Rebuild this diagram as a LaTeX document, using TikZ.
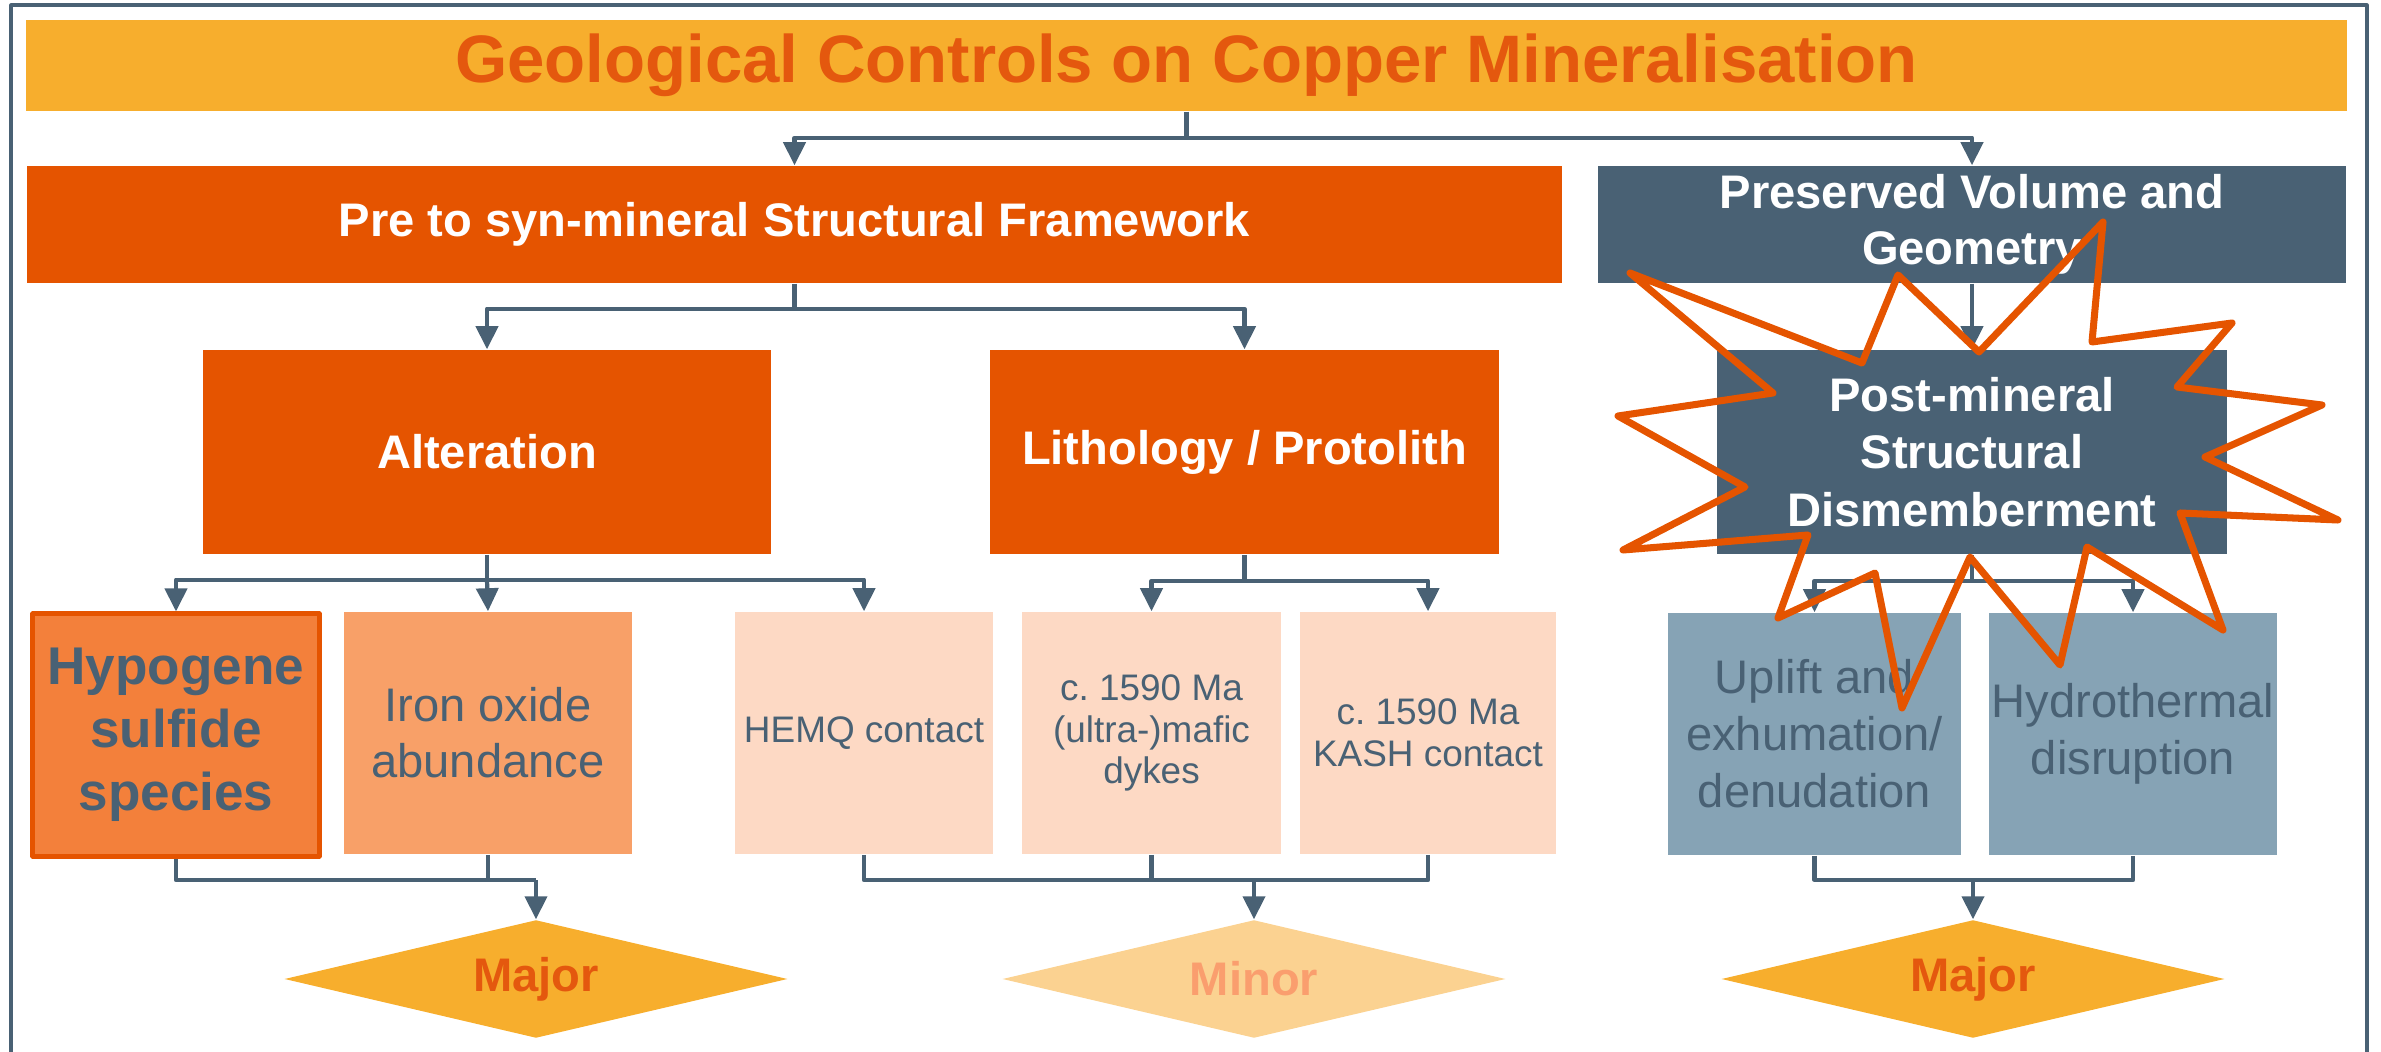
\documentclass[tikz,border=0pt]{standalone}
\usepackage{fontspec}
\setmainfont{Liberation Sans}
\usetikzlibrary{arrows.meta,shapes.geometric}

\definecolor{slate}{RGB}{73,97,116}
\definecolor{steel}{RGB}{134,163,181}
\definecolor{rust}{RGB}{229,84,0}
\definecolor{titlered}{RGB}{228,88,14}
\definecolor{tangerine}{RGB}{243,128,59}
\definecolor{salmon}{RGB}{248,160,104}
\definecolor{peach}{RGB}{253,217,196}
\definecolor{gold}{RGB}{247,174,45}
\definecolor{palegold}{RGB}{251,210,145}
\definecolor{minortext}{RGB}{250,158,110}

\newcommand\fsz[2]{\fontsize{#1}{#2}\selectfont}

\begin{document}
\begin{tikzpicture}[
		x=0.01cm, y=-0.01cm,
		>={Triangle[length=2.3mm,width=2.2mm]},
		line join=round,
		box/.style={rectangle,inner sep=0pt,align=center},
		head/.style={box,fill=rust,text=white,font=\bfseries\fsz{13.4}{16}},
		slatebox/.style={box,fill=slate,text=white,font=\bfseries\fsz{13.4}{16}},
		peachbox/.style={box,fill=peach,text=slate,font=\fsz{10.5}{12},
			minimum width=2.58cm,minimum height=2.42cm},
		steelbox/.style={box,fill=steel,text=slate,font=\fsz{13.4}{16.2},
			minimum height=2.42cm},
		gem/.style={diamond,inner sep=0pt,aspect=4.26,
			minimum width=5.03cm,minimum height=1.18cm,font=\bfseries\fsz{13.4}{16}},
		link/.style={draw=slate,line width=1.2pt},
		burst/.style={draw=rust,line width=2pt,line join=round}
		]
		\useasboundingbox (0,0) rectangle (2381,1052);
		\draw[slate,line width=0.9pt] (11,1052) -- (11,5) -- (2367,5) -- (2367,1052);

		% heading and the two main branches
		\node[box,fill=gold,text=titlered,font=\bfseries\fsz{19.1}{22},
			minimum width=23.19cm,minimum height=0.91cm] (title) at (1186.5,65.5)
			{Geological Controls on Copper Mineralisation};
		\node[head,minimum width=15.35cm,minimum height=1.17cm] (framework) at (794.5,224.5)
			{Pre to syn-mineral Structural Framework};
		\node[slatebox,minimum width=7.48cm,minimum height=1.17cm] (preserved) at (1972,224.5)
			{Preserved Volume and\\Geometry};

		\node[head,minimum width=5.68cm,minimum height=2.04cm] (alteration) at (487,452) {Alteration};
		\node[head,minimum width=5.09cm,minimum height=2.04cm] (lithology) at (1244.5,452) {Lithology / Protolith};
		\node[slatebox,font=\bfseries\fsz{13.4}{16.3},minimum width=5.10cm,minimum height=2.04cm] (postmineral) at (1972,452)
			{Post-mineral\\Structural\\Dismemberment};

		% individual controls
		\node[box,fill=tangerine,draw=rust,line width=1.4pt,text=slate,font=\bfseries\fsz{15.1}{17.9},
			minimum width=2.86cm,minimum height=2.42cm] (hypogene) at (176,735)
			{Hypogene\\sulfide\\species};
		\node[box,fill=salmon,text=slate,font=\fsz{13.4}{15.9},
			minimum width=2.88cm,minimum height=2.42cm] (ironoxide) at (488,733)
			{Iron oxide\\abundance};
		\node[peachbox] (hemq) at (864,733) {HEMQ contact};
		\node[peachbox,font=\fsz{10.5}{11.9}] (dykes) at (1151.5,733) {c.\ 1590 Ma\\(ultra-)mafic\\dykes};
		\node[peachbox,font=\fsz{10.5}{11.9},minimum width=2.56cm] (kash) at (1428,733) {c.\ 1590 Ma\\KASH contact};
		\node[steelbox,minimum width=2.93cm] (uplift) at (1814.5,734) {Uplift and\\exhumation/\\denudation};
		\node[steelbox,minimum width=2.88cm] (hydro) at (2133,734) {Hydrothermal\\disruption};

		% ratings
		\node[gem,fill=gold,text=titlered] (major1) at (536,979) {Major};
		\node[gem,fill=palegold,text=minortext] (minor) at (1254,979) {Minor};
		\node[gem,fill=gold,text=titlered] (major2) at (1973,979) {Major};

		\begin{scope}[link]
		\draw[->] (title.south) -- ++(0,26) coordinate (t0) -| (framework.north);
		\draw[->] (t0) -| (preserved.north);
		\draw (framework.south) -- ++(0,25) coordinate (f0);
		\draw[->] (f0) -| (alteration.north);
		\draw[->] (f0) -| (lithology.north);
		\draw[->] (preserved.south) -- (postmineral.north);

		\draw (alteration.south) -- ++(0,25) coordinate (a0);
		\draw[->] (a0) -| (hypogene.north);
		\draw[->] (a0) -- (ironoxide.north);
		\draw[->] (a0) -| (hemq.north);
		\draw (lithology.south) -- ++(0,26) coordinate (l0);
		\draw[->] (l0) -| (dykes.north);
		\draw[->] (l0) -| (kash.north);
		\draw (postmineral.south) -- ++(0,26) coordinate (p0);
		\draw[->] (p0) -| (uplift.north);
		\draw[->] (p0) -| (hydro.north);

		\coordinate (j1) at (536,880);
		\coordinate (j2) at (1254,880);
		\coordinate (j3) at (1973,880);
		\draw (hypogene.south) |- (j1);
		\draw (ironoxide.south) |- (j1);
		\draw[->] (j1) -- (major1.north);
		\draw (hemq.south) |- (j2);
		\draw (kash.south) |- (j2);
		\draw (dykes.south) -- (dykes.south |- j2);
		\draw[->] (j2) -- (minor.north);
		\draw (uplift.south) |- (j3);
		\draw (hydro.south) |- (j3);
		\draw[->] (j3) -- (major2.north);
		\end{scope}

		% starburst over the post-mineral branch
		\draw[burst] (1630,273) -- (1862,363) -- (1898,275) -- (1979,352) -- (2103,222)
			-- (2092,342) -- (2232,323) -- (2177,387) -- (2322,405) -- (2205,457)
			-- (2338,520) -- (2180,513) -- (2223,630) -- (2087,547) -- (2060,665)
			-- (1970,557) -- (1902,708) -- (1875,573) -- (1778,618) -- (1808,535)
			-- (1623,550) -- (1745,487) -- (1618,416) -- (1773,393) -- cycle;
		\end{tikzpicture}
\end{document}
